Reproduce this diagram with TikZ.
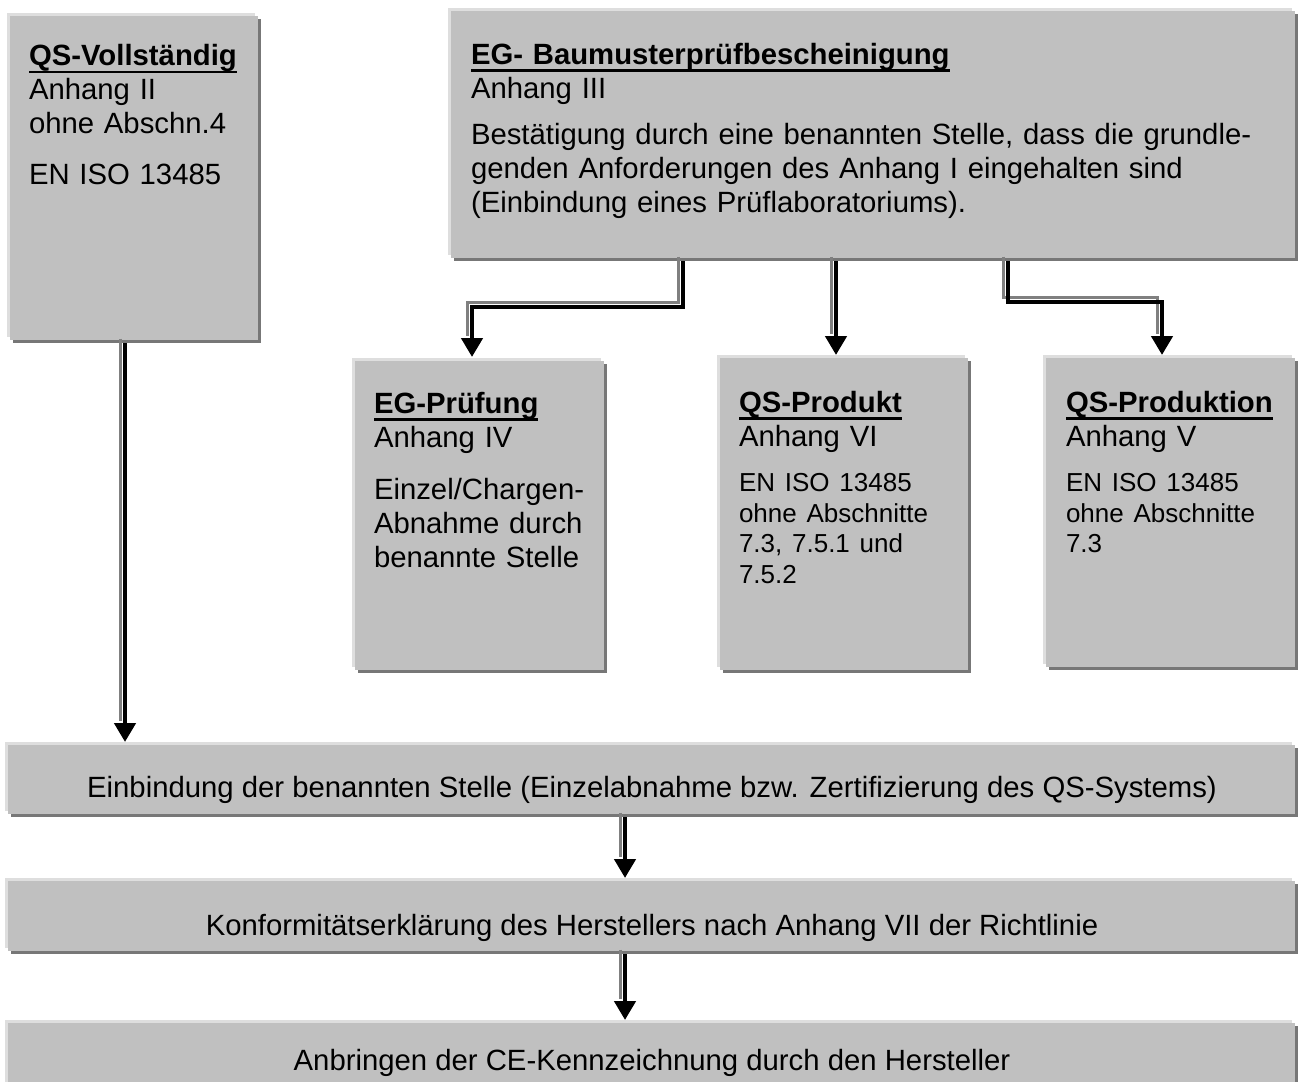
\documentclass[tikz,border=0pt]{standalone}
\usepackage{fontspec}
\setmainfont{Liberation Sans}
\usetikzlibrary{arrows.meta,calc}
\definecolor{boxgray}{HTML}{C0C0C0}
\definecolor{edgelight}{HTML}{DEDEDE}
\definecolor{edgedark}{HTML}{777777}
\definecolor{arrgray}{HTML}{808080}
\newcommand\ttl[1]{\setbox0\hbox{\bfseries #1}\rlap{\rule[-7.5pt]{\wd0}{2.6pt}}\box0}
\newcommand\gbox[5]{%
  \fill[edgelight] (#2-3,#3-3) rectangle (#4-3,#5-3);
  \fill[edgedark] (#2+3,#3+3) rectangle (#4+3,#5+3);
  \pgfmathsetmacro\bw{#4-#2}\pgfmathsetmacro\bh{#5-#3}%
  \node[gbx, minimum width=\bw pt, minimum height=\bh pt] (#1) at (#2,#3) {};
}
\begin{document}
\begin{tikzpicture}[x=1pt,y=-1pt,
  gbx/.style={rectangle, fill=boxgray, draw=none, inner sep=0pt, outer sep=0pt, anchor=north west},
  txt/.style={inner sep=0pt, outer sep=0pt, align=left, anchor=base west, font=\fontsize{29.3}{34}\selectfont},
  ctxt/.style={inner sep=0pt, outer sep=0pt, anchor=base, font=\fontsize{29.3}{34}\selectfont},
  arr/.style={line width=4.5pt, -{Triangle[width=21pt,length=19pt]}},
  arrsh/.style={line width=2.5pt, arrgray, shorten >=17pt, transform canvas={xshift=-4.5pt,yshift=4.5pt}}
]
\useasboundingbox (0,0) rectangle (1300,1081);
\fill[white] (0,0) rectangle (1300,1081);

% boxes
\gbox{qsv}{10}{16}{258}{340}
\gbox{egb}{451}{11}{1295}{258}
\gbox{egp}{355}{361}{604}{670}
\gbox{qsp}{720}{358}{968}{670}
\gbox{qspn}{1046}{358}{1295}{667}
\gbox{b1}{8}{745}{1295}{814}
\gbox{b2}{8}{881}{1295}{951}
\gbox{b3}{8}{1023}{1295}{1100}

% connectors (shadow + main)
\draw[arrsh] ($(qsv.south west)+(115,3)$) -- ($(b1.north west)+(117,-3)$);
\draw[arr]   ($(qsv.south west)+(115,3)$) -- ($(b1.north west)+(117,-3)$);

\draw[arrsh] ($(egb.south west)+(385,3)$) -- ($(qsp.north west)+(116,-3)$);
\draw[arr]   ($(egb.south west)+(385,3)$) -- ($(qsp.north west)+(116,-3)$);

\draw[arrsh] ($(egb.south west)+(232,3)$) -- ++(0,46) -| ($(egp.north west)+(117,-4)$);
\draw[arr]   ($(egb.south west)+(232,3)$) -- ++(0,46) -| ($(egp.north west)+(117,-4)$);

\draw[arrsh] ($(egb.south west)+(557,3)$) -- ++(0,41) -| ($(qspn.north west)+(116,-3)$);
\draw[arr]   ($(egb.south west)+(557,3)$) -- ++(0,41) -| ($(qspn.north west)+(116,-3)$);

\draw[arrsh] ($(b1.south west)+(617,3)$) -- ($(b2.north west)+(617,-3)$);
\draw[arr]   ($(b1.south west)+(617,3)$) -- ($(b2.north west)+(617,-3)$);

\draw[arrsh] ($(b2.south west)+(617,3)$) -- ($(b3.north west)+(617,-3)$);
\draw[arr]   ($(b2.south west)+(617,3)$) -- ($(b3.north west)+(617,-3)$);

% texts
\node[txt, text width=235pt] (qsvt) at (29,66)
  {\ttl{QS-Vollständig}\\ Anhang II\\ ohne Abschn.4\\[17pt] EN ISO 13485};
\node[txt, text width=830pt] (egbt) at (471,64)
  {\ttl{EG- Baumusterprüfbescheinigung}\\ Anhang III\\[12pt]
   Bestätigung durch eine benannten Stelle, dass die grundle-\\
   genden Anforderungen des Anhang I eingehalten sind\\
   (Einbindung eines Prüflaboratoriums).};
\node[txt, text width=230pt] (egpt) at (374,413)
  {\ttl{EG-Prüfung}\\ Anhang IV\\[18pt] Einzel/Chargen-\\ Abnahme durch\\ benannte Stelle};
\node[txt, text width=230pt] (qspt) at (739,412)
  {\ttl{QS-Produkt}\\ Anhang VI\par\vspace{15pt}%
   {\fontsize{26}{30.5}\selectfont EN ISO 13485\\ ohne Abschnitte\\ 7.3, 7.5.1 und\\ 7.5.2\par}};
\node[txt, text width=240pt] (qspnt) at (1066,412)
  {\ttl{QS-Produktion}\\ Anhang V\par\vspace{15pt}%
   {\fontsize{26}{30.5}\selectfont EN ISO 13485\\ ohne Abschnitte\\ 7.3\par}};
\node[ctxt] (b1t) at (652,797)
  {Einbindung der benannten Stelle (Einzelabnahme bzw. Zertifizierung des QS-Systems)};
\node[ctxt] (b2t) at (652,935)
  {Konformitätserklärung des Herstellers nach Anhang VII der Richtlinie};
\node[ctxt] (b3t) at (652,1070)
  {Anbringen der CE-Kennzeichnung durch den Hersteller};
\end{tikzpicture}
\end{document}
